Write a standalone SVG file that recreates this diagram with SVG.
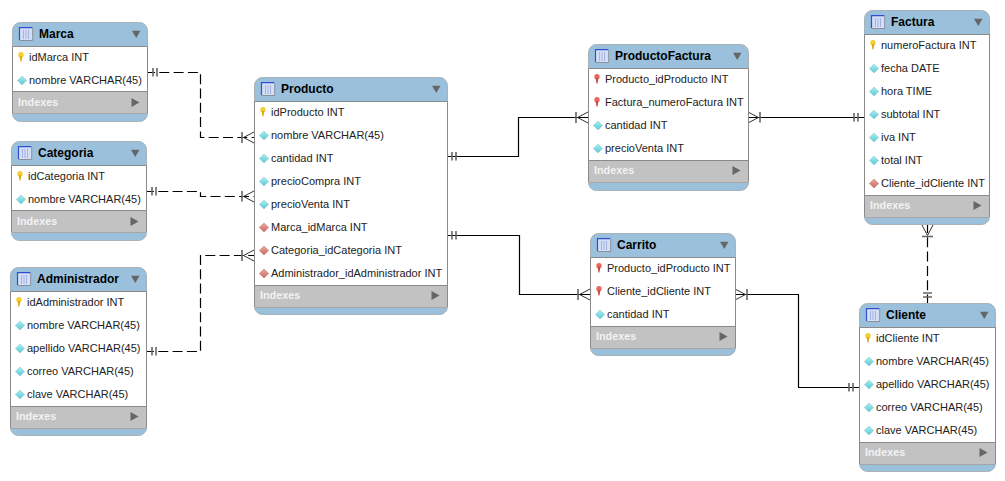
<svg xmlns="http://www.w3.org/2000/svg" width="1005" height="481" viewBox="0 0 1005 481">
<style>
text{font-family:"Liberation Sans",Arial,sans-serif}
.box{fill:#9ac0dc;stroke:#a9b2b8;stroke-width:1}
.rows{fill:#fff}
.idx{fill:#c2c2c2}
.sep{stroke:#8a8a8a;stroke-width:1;fill:none}
.sep2{stroke:#a6a6a6;stroke-width:1;fill:none}
.title{font-size:12px;font-weight:bold;fill:#000}
.row{font-size:11px;fill:#222}
.ix{font-size:10.8px;font-weight:bold;fill:#f2f2f2}
.c{fill:none;stroke:#000;stroke-width:1.2}
.d{stroke-dasharray:10 4.3;stroke-dashoffset:2}
.m{fill:none;stroke:#333;stroke-width:1}
.b{fill:none;stroke:#666;stroke-width:1.6}
</style>
<defs>
<linearGradient id="gc" x1="0" y1="0" x2="0" y2="1"><stop offset="0" stop-color="#a8f0f2"/><stop offset="1" stop-color="#5cc8d4"/></linearGradient>
<linearGradient id="gr" x1="0" y1="0" x2="0" y2="1"><stop offset="0" stop-color="#f0a8a0"/><stop offset="1" stop-color="#c86860"/></linearGradient>
<g id="tb"><rect x="0" y="0" width="14" height="13" rx="1" fill="#d4def6"/><path d="M0.5 13V0.7H13.5" fill="none" stroke="#2f4fd0" stroke-width="1.2"/><path d="M13.7 1V13.5H0.5" fill="none" stroke="#8a8f9a"/><path d="M4.5 3V12M7 3V12M9.5 3V12" stroke="#a4b4de"/></g>
<path id="dn" d="M1 1.7H9.500L5.250 9Z" fill="#666"/>
<path id="rt" d="M0.500 1L8.500 5.500L0.500 10Z" fill="#666"/>
<g id="pk"><circle cx="3" cy="2.800" r="2.700" fill="#f4cf30"/><path d="M1.600 4H4.400L3.400 9.500H2.400Z" fill="#e0a818"/></g>
<g id="fk"><circle cx="3" cy="2.800" r="2.700" fill="#e8685a"/><path d="M1.600 4H4.400L3.400 9.500H2.400Z" fill="#c84a40"/></g>
<path id="cd" d="M-0.700 4.500L4 0L8.700 4.500L4 9Z" fill="url(#gc)" stroke="#8cc4cc" stroke-width="0.500"/>
<path id="rd" d="M-0.700 4.500L4 0L8.700 4.500L4 9Z" fill="url(#gr)" stroke="#b87870" stroke-width="0.500"/>
</defs>
<g id="connectors">
<path class="c d" d="M147 72.500H200.500V137.500H254"/>
<path class="c d" d="M146 191.500H200.500V196.500H254"/>
<path class="c d" d="M146 351.500H200.500V255.500H254"/>
<path class="c" d="M447 156.500H518.500V117.500H588"/>
<path class="c" d="M447 235.500H519.500V294.500H590"/>
<path class="c" d="M748 117.500H864"/>
<path class="c" d="M735 294.500H798.500V387.500H859"/>
<path class="c d" d="M927.500 225V303"/>
<path class="b" d="M153 68V76.500M157 68V76.500M242 132V143"/><path class="m" d="M254 132L243.500 137.500L254 143"/>
<path class="b" d="M152 187V195.500M156 187V195.500M242 191V201.500"/><path class="m" d="M254 191L243.500 196.500L254 202"/>
<path class="b" d="M152 347V355.500M156 347V355.500M242 250V261"/><path class="m" d="M254 250L243.500 255.500L254 261"/>
<path class="b" d="M452 152V160.500M456 152V160.500M576 112V123"/><path class="m" d="M588 112L577.500 117.500L588 123"/>
<path class="b" d="M452 231V239.500M456 231V239.500M578 289V300"/><path class="m" d="M590 289L579.500 294.500L590 300"/>
<path class="b" d="M760 112V122.500M854 113V121.500M858 113V121.500"/><path class="m" d="M748 112L758.500 117.500L748 123"/>
<path class="b" d="M747 289V300M849 383V391.500M853 383V391.500"/><path class="m" d="M735 289L745.500 294.500L735 300"/>
<path class="b" d="M922 236.500H933M923 293H932M923 297H932"/><path class="m" d="M922 225L927.500 235.500L933 225"/>
</g>
<g id="Marca">
<rect class="box" x="12.500" y="22.500" width="135" height="99" rx="8"/>
<rect class="rows" x="13" y="46" width="134" height="45"/>
<rect class="idx" x="13" y="91" width="134" height="22"/>
<path class="sep" d="M12.500 46.500H147.500V91.500H12.500ZM12.500 91.500V113M147.500 91.500V113"/><path class="sep2" d="M13 113.500H147"/>
<use href="#tb" x="19" y="27"/><text class="title" x="39" y="38">Marca</text><use href="#dn" x="131" y="29"/>
<use href="#pk" x="18" y="52"/><text class="row" x="29" y="61">idMarca INT</text>
<use href="#cd" x="18" y="76"/><text class="row" x="29" y="84">nombre VARCHAR(45)</text>
<text class="ix" x="18" y="106">Indexes</text><use href="#rt" x="131" y="97"/>
</g>
<g id="Categoria">
<rect class="box" x="11.500" y="141.500" width="135" height="99" rx="8"/>
<rect class="rows" x="12" y="165" width="134" height="45"/>
<rect class="idx" x="12" y="210" width="134" height="22"/>
<path class="sep" d="M11.500 165.500H146.500V210.500H11.500ZM11.500 210.500V232M146.500 210.500V232"/><path class="sep2" d="M12 232.500H146"/>
<use href="#tb" x="18" y="146"/><text class="title" x="38" y="157">Categoria</text><use href="#dn" x="130" y="148"/>
<use href="#pk" x="17" y="171"/><text class="row" x="28" y="180">idCategoria INT</text>
<use href="#cd" x="17" y="195"/><text class="row" x="28" y="203">nombre VARCHAR(45)</text>
<text class="ix" x="17" y="225">Indexes</text><use href="#rt" x="130" y="216"/>
</g>
<g id="Administrador">
<rect class="box" x="10.500" y="267.500" width="136" height="168" rx="8"/>
<rect class="rows" x="11" y="291" width="135" height="115"/>
<rect class="idx" x="11" y="406" width="135" height="22"/>
<path class="sep" d="M10.500 291.500H146.500V406.500H10.500ZM10.500 406.500V428M146.500 406.500V428"/><path class="sep2" d="M11 428.500H146"/>
<use href="#tb" x="17" y="272"/><text class="title" x="37" y="283">Administrador</text><use href="#dn" x="130" y="274"/>
<use href="#pk" x="16" y="297"/><text class="row" x="27" y="306">idAdministrador INT</text>
<use href="#cd" x="16" y="321"/><text class="row" x="27" y="329">nombre VARCHAR(45)</text>
<use href="#cd" x="16" y="344"/><text class="row" x="27" y="352">apellido VARCHAR(45)</text>
<use href="#cd" x="16" y="367"/><text class="row" x="27" y="375">correo VARCHAR(45)</text>
<use href="#cd" x="16" y="390"/><text class="row" x="27" y="398">clave VARCHAR(45)</text>
<text class="ix" x="16" y="420">Indexes</text><use href="#rt" x="130" y="411"/>
</g>
<g id="Producto">
<rect class="box" x="254.500" y="77.500" width="193" height="237" rx="8"/>
<rect class="rows" x="255" y="101" width="192" height="184"/>
<rect class="idx" x="255" y="285" width="192" height="22"/>
<path class="sep" d="M254.500 101.500H447.500V285.500H254.500ZM254.500 285.500V307M447.500 285.500V307"/><path class="sep2" d="M255 307.500H447"/>
<use href="#tb" x="261" y="82"/><text class="title" x="281" y="93">Producto</text><use href="#dn" x="431" y="84"/>
<use href="#pk" x="260" y="107"/><text class="row" x="271" y="116">idProducto INT</text>
<use href="#cd" x="260" y="131"/><text class="row" x="271" y="139">nombre VARCHAR(45)</text>
<use href="#cd" x="260" y="154"/><text class="row" x="271" y="162">cantidad INT</text>
<use href="#cd" x="260" y="177"/><text class="row" x="271" y="185">precioCompra INT</text>
<use href="#cd" x="260" y="200"/><text class="row" x="271" y="208">precioVenta INT</text>
<use href="#rd" x="260" y="223"/><text class="row" x="271" y="231">Marca_idMarca INT</text>
<use href="#rd" x="260" y="246"/><text class="row" x="271" y="254">Categoria_idCategoria INT</text>
<use href="#rd" x="260" y="269"/><text class="row" x="271" y="277">Administrador_idAdministrador INT</text>
<text class="ix" x="260" y="299">Indexes</text><use href="#rt" x="431" y="290"/>
</g>
<g id="ProductoFactura">
<rect class="box" x="588.500" y="44.500" width="160" height="146" rx="8"/>
<rect class="rows" x="589" y="68" width="159" height="92"/>
<rect class="idx" x="589" y="160" width="159" height="22"/>
<path class="sep" d="M588.500 68.500H748.500V160.500H588.500ZM588.500 160.500V182M748.500 160.500V182"/><path class="sep2" d="M589 182.500H748"/>
<use href="#tb" x="595" y="49"/><text class="title" x="615" y="60">ProductoFactura</text><use href="#dn" x="732" y="51"/>
<use href="#fk" x="594" y="74"/><text class="row" x="605" y="83">Producto_idProducto INT</text>
<use href="#fk" x="594" y="97"/><text class="row" x="605" y="106">Factura_numeroFactura INT</text>
<use href="#cd" x="594" y="121"/><text class="row" x="605" y="129">cantidad INT</text>
<use href="#cd" x="594" y="144"/><text class="row" x="605" y="152">precioVenta INT</text>
<text class="ix" x="594" y="174">Indexes</text><use href="#rt" x="732" y="165"/>
</g>
<g id="Carrito">
<rect class="box" x="590.500" y="233.500" width="145" height="122" rx="8"/>
<rect class="rows" x="591" y="257" width="144" height="69"/>
<rect class="idx" x="591" y="326" width="144" height="22"/>
<path class="sep" d="M590.500 257.500H735.500V326.500H590.500ZM590.500 326.500V348M735.500 326.500V348"/><path class="sep2" d="M591 348.500H735"/>
<use href="#tb" x="597" y="238"/><text class="title" x="617" y="249">Carrito</text><use href="#dn" x="719" y="240"/>
<use href="#fk" x="596" y="263"/><text class="row" x="607" y="272">Producto_idProducto INT</text>
<use href="#fk" x="596" y="286"/><text class="row" x="607" y="295">Cliente_idCliente INT</text>
<use href="#cd" x="596" y="310"/><text class="row" x="607" y="318">cantidad INT</text>
<text class="ix" x="596" y="340">Indexes</text><use href="#rt" x="719" y="331"/>
</g>
<g id="Factura">
<rect class="box" x="864.500" y="10.500" width="125" height="214" rx="8"/>
<rect class="rows" x="865" y="34" width="124" height="161"/>
<rect class="idx" x="865" y="195" width="124" height="22"/>
<path class="sep" d="M864.500 34.500H989.500V195.500H864.500ZM864.500 195.500V217M989.500 195.500V217"/><path class="sep2" d="M865 217.500H989"/>
<use href="#tb" x="871" y="15"/><text class="title" x="891" y="26">Factura</text><use href="#dn" x="973" y="17"/>
<use href="#pk" x="870" y="40"/><text class="row" x="881" y="49">numeroFactura INT</text>
<use href="#cd" x="870" y="64"/><text class="row" x="881" y="72">fecha DATE</text>
<use href="#cd" x="870" y="87"/><text class="row" x="881" y="95">hora TIME</text>
<use href="#cd" x="870" y="110"/><text class="row" x="881" y="118">subtotal INT</text>
<use href="#cd" x="870" y="133"/><text class="row" x="881" y="141">iva INT</text>
<use href="#cd" x="870" y="156"/><text class="row" x="881" y="164">total INT</text>
<use href="#rd" x="870" y="179"/><text class="row" x="881" y="187">Cliente_idCliente INT</text>
<text class="ix" x="870" y="209">Indexes</text><use href="#rt" x="973" y="200"/>
</g>
<g id="Cliente">
<rect class="box" x="859.500" y="303.500" width="136" height="168" rx="8"/>
<rect class="rows" x="860" y="327" width="135" height="115"/>
<rect class="idx" x="860" y="442" width="135" height="22"/>
<path class="sep" d="M859.500 327.500H995.500V442.500H859.500ZM859.500 442.500V464M995.500 442.500V464"/><path class="sep2" d="M860 464.500H995"/>
<use href="#tb" x="866" y="308"/><text class="title" x="886" y="319">Cliente</text><use href="#dn" x="979" y="310"/>
<use href="#pk" x="865" y="333"/><text class="row" x="876" y="342">idCliente INT</text>
<use href="#cd" x="865" y="357"/><text class="row" x="876" y="365">nombre VARCHAR(45)</text>
<use href="#cd" x="865" y="380"/><text class="row" x="876" y="388">apellido VARCHAR(45)</text>
<use href="#cd" x="865" y="403"/><text class="row" x="876" y="411">correo VARCHAR(45)</text>
<use href="#cd" x="865" y="426"/><text class="row" x="876" y="434">clave VARCHAR(45)</text>
<text class="ix" x="865" y="456">Indexes</text><use href="#rt" x="979" y="447"/>
</g>
</svg>
